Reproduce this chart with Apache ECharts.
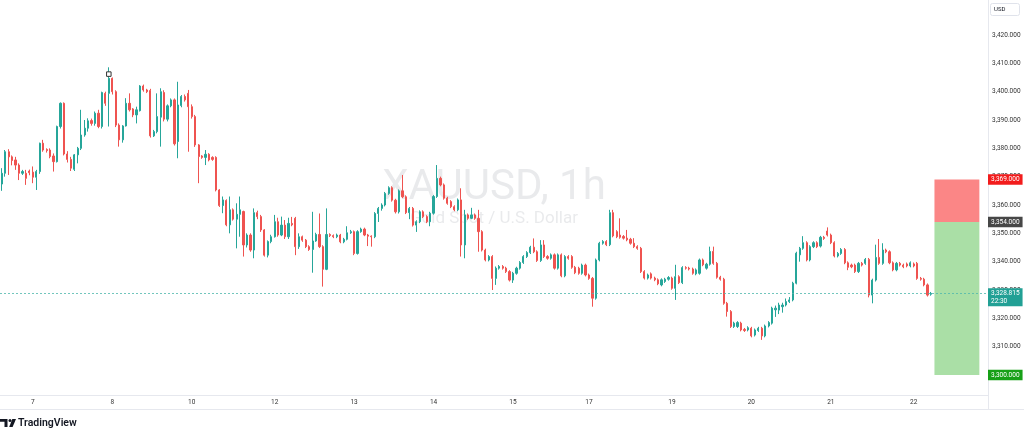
<!DOCTYPE html>
<html><head><meta charset="utf-8">
<script src="https://cdn.jsdelivr.net/npm/echarts@6/dist/echarts.min.js"></script>
<style>html,body{margin:0;padding:0;background:#fff}#c{width:1024px;height:437px}</style>
</head><body><div id="c"></div>
<script>
const opens = [
3367.4,3371.2,3378.8,3377.0,3375.9,3374.1,3371.2,3371.2,3372.0,3371.6,
3369.8,3371.8,3381.8,3379.6,3379.4,3377.3,3375.3,3387.7,3395.9,3378.0,
3376.1,3372.6,3377.7,3380.0,3384.7,3387.1,3389.8,3388.8,3392.4,3387.7,
3399.4,3399.4,3404.7,3400.0,3388.2,3383.0,3387.9,3395.9,3393.9,3391.8,
3393.3,3402.0,3400.6,3400.4,3384.4,3385.9,3391.0,3399.7,3390.3,3395.0,
3397.1,3382.4,3395.1,3398.3,3399.4,3394.7,3391.2,3381.2,3377.3,3376.8,
3377.9,3376.8,3376.8,3365.3,3359.8,3361.6,3353.0,3358.3,3355.0,3356.7,
3357.7,3345.9,3349.4,3344.1,3357.3,3355.9,3351.2,3342.3,3347.1,3348.8,
3354.1,3349.4,3352.9,3348.8,3353.5,3355.3,3345.3,3348.8,3347.6,3345.3,
3344.3,3347.3,3349.6,3345.3,3337.3,3349.6,3349.2,3348.8,3349.4,3347.0,
3347.9,3350.2,3350.6,3342.9,3350.6,3351.5,3349.4,3349.0,3348.8,3357.0,
3358.8,3360.0,3364.1,3366.1,3361.7,3357.6,3365.0,3362.9,3357.3,3358.8,
3352.9,3354.1,3357.6,3355.9,3354.1,3357.1,3363.0,3369.4,3367.1,3362.4,
3361.2,3359.4,3358.3,3361.8,3345.9,3356.5,3355.3,3356.5,3355.3,3350.6,
3344.1,3340.6,3341.8,3334.1,3337.7,3338.3,3337.7,3336.5,3333.5,3335.9,
3337.7,3339.7,3341.8,3343.2,3345.1,3343.5,3340.4,3345.9,3341.8,3341.2,
3342.4,3337.7,3342.4,3335.0,3341.8,3341.8,3338.0,3337.7,3335.9,3338.8,
3335.3,3334.1,3327.1,3340.6,3346.5,3347.1,3346.0,3357.3,3350.6,3349.4,
3348.9,3348.3,3347.9,3346.5,3345.3,3344.7,3336.5,3334.2,3335.7,3334.2,
3333.6,3331.8,3333.0,3333.8,3334.2,3330.6,3334.7,3332.6,3337.9,3337.7,
3337.4,3335.7,3335.9,3340.6,3337.7,3339.1,3343.6,3339.4,3334.5,3333.8,
3325.3,3322.4,3317.1,3317.1,3318.3,3316.1,3315.9,3316.5,3314.1,3315.7,
3316.5,3313.8,3317.3,3318.3,3323.0,3322.9,3324.1,3324.7,3325.9,3326.5,
3332.4,3342.4,3344.7,3346.7,3340.6,3345.3,3346.7,3345.5,3348.6,3350.8,
3349.4,3346.7,3342.0,3342.9,3344.3,3339.6,3338.8,3338.8,3336.5,3339.4,
3339.4,3340.8,3328.2,3333.5,3341.5,3339.4,3344.1,3343.5,3339.6,3337.1,
3339.4,3338.8,3339.2,3338.5,3339.2,3339.4,3334.1,3333.8,3331.8,3328.5
];
const closes = [
3371.2,3378.8,3377.0,3375.7,3374.1,3371.2,3371.8,3369.4,3371.4,3369.8,
3371.8,3381.8,3379.4,3379.2,3377.1,3375.3,3387.7,3395.9,3378.0,3376.1,
3373.0,3377.7,3380.0,3384.7,3387.1,3389.7,3388.8,3392.4,3387.7,3399.7,
3395.9,3404.7,3400.0,3388.2,3383.0,3387.9,3395.9,3393.6,3391.8,3393.6,
3402.0,3400.6,3400.0,3384.4,3385.9,3391.2,3400.0,3390.3,3395.0,3397.1,
3381.6,3395.3,3398.3,3397.1,3394.7,3391.2,3381.2,3377.1,3376.8,3377.9,
3375.9,3376.1,3365.3,3359.8,3361.8,3353.0,3358.3,3355.0,3356.7,3358.3,
3345.9,3349.4,3344.1,3357.3,3355.9,3351.2,3342.3,3347.1,3348.8,3354.1,
3349.4,3352.9,3348.8,3353.5,3353.0,3345.3,3348.8,3347.6,3345.3,3344.3,
3347.3,3349.6,3345.3,3337.3,3349.6,3349.2,3348.8,3349.4,3347.0,3347.9,
3350.2,3350.6,3342.9,3350.6,3351.5,3349.4,3349.0,3348.8,3357.0,3358.8,
3360.0,3364.1,3366.1,3361.7,3357.6,3365.0,3362.9,3357.3,3358.8,3352.9,
3354.1,3357.6,3355.9,3354.1,3357.1,3363.0,3369.4,3367.1,3362.4,3360.6,
3359.4,3358.3,3361.8,3345.9,3356.5,3355.3,3356.5,3355.3,3350.6,3344.1,
3340.6,3341.8,3334.1,3337.7,3338.3,3337.7,3336.5,3333.5,3335.9,3337.7,
3339.7,3341.8,3343.2,3345.1,3343.5,3340.4,3345.9,3341.8,3341.2,3342.4,
3337.7,3342.4,3335.0,3341.8,3341.2,3338.0,3336.1,3335.9,3338.8,3335.3,
3334.1,3327.1,3340.6,3346.5,3347.1,3346.0,3357.3,3349.1,3348.8,3348.6,
3348.3,3347.7,3346.5,3345.3,3344.7,3336.5,3334.2,3335.3,3334.2,3333.6,
3332.2,3333.6,3333.8,3334.4,3330.6,3334.7,3332.6,3337.9,3337.7,3337.4,
3335.9,3337.1,3340.6,3338.9,3339.1,3343.6,3339.4,3334.5,3333.8,3325.3,
3322.4,3317.1,3318.3,3318.5,3315.9,3315.7,3316.7,3313.8,3315.9,3316.5,
3313.8,3317.3,3318.5,3323.6,3323.6,3324.7,3324.7,3325.9,3326.5,3332.4,
3343.0,3344.7,3346.7,3340.6,3345.3,3346.7,3345.3,3348.6,3348.2,3349.4,
3346.7,3342.0,3342.9,3344.3,3339.6,3338.0,3338.2,3336.5,3339.4,3338.8,
3340.8,3328.2,3333.5,3341.5,3339.4,3344.1,3343.5,3339.6,3337.1,3339.4,
3338.8,3338.2,3338.5,3339.6,3338.5,3334.1,3333.8,3331.8,3328.2,3328.8
];
const highs = [
3373.0,3379.4,3379.7,3377.5,3377.0,3374.7,3372.4,3372.4,3372.5,3373.6,
3372.4,3382.0,3383.0,3380.0,3380.0,3378.2,3388.0,3396.2,3396.2,3379.0,
3377.0,3378.0,3380.5,3393.6,3390.0,3390.6,3390.5,3393.0,3393.6,3400.0,
3400.0,3408.6,3405.0,3400.5,3388.8,3388.2,3397.7,3399.4,3394.2,3394.7,
3402.3,3402.5,3401.0,3401.0,3386.5,3399.4,3401.2,3400.5,3395.5,3397.6,
3397.6,3403.5,3398.8,3399.0,3400.6,3395.5,3391.8,3381.5,3377.6,3379.4,
3378.3,3377.2,3377.2,3365.6,3363.0,3362.0,3363.0,3358.8,3360.6,3363.0,
3358.0,3350.0,3350.0,3358.8,3358.0,3356.5,3351.5,3347.5,3349.5,3356.5,
3355.5,3355.9,3354.7,3355.5,3355.8,3355.8,3350.0,3349.2,3348.0,3345.8,
3357.6,3350.2,3357.0,3345.8,3358.8,3350.0,3349.6,3349.9,3349.8,3348.4,
3352.5,3351.2,3351.0,3351.1,3352.0,3352.0,3349.8,3349.3,3357.5,3359.3,
3360.6,3364.6,3366.6,3366.6,3362.2,3365.5,3370.6,3363.4,3359.3,3359.3,
3354.6,3358.1,3358.1,3356.4,3357.6,3363.5,3374.1,3370.0,3367.6,3362.9,
3361.7,3359.9,3362.3,3365.9,3358.3,3357.0,3359.0,3357.0,3358.3,3351.1,
3344.6,3342.3,3342.3,3338.3,3338.8,3338.8,3338.2,3337.0,3336.4,3338.2,
3340.2,3342.3,3343.7,3345.6,3348.2,3344.0,3347.6,3347.6,3342.3,3342.9,
3342.9,3342.9,3342.9,3342.3,3342.3,3342.3,3338.5,3338.2,3339.3,3339.3,
3335.8,3334.6,3341.1,3347.0,3347.6,3347.6,3358.3,3358.3,3351.1,3355.3,
3349.4,3351.2,3348.4,3348.3,3345.8,3345.2,3337.0,3335.8,3336.2,3334.7,
3334.1,3334.1,3334.3,3334.9,3334.7,3338.9,3335.2,3338.4,3338.4,3338.2,
3337.9,3337.6,3341.1,3341.1,3339.6,3345.3,3345.3,3339.9,3335.0,3334.3,
3325.8,3322.9,3318.8,3319.0,3318.8,3316.6,3317.2,3317.0,3316.4,3317.0,
3317.0,3317.8,3319.0,3324.1,3324.5,3325.5,3325.5,3327.0,3327.5,3332.9,
3343.5,3345.2,3349.0,3347.2,3345.8,3347.2,3347.2,3349.1,3349.1,3352.1,
3349.9,3347.2,3343.4,3344.8,3344.8,3340.1,3339.3,3339.3,3339.9,3339.9,
3341.3,3341.3,3334.0,3346.0,3348.0,3346.5,3344.6,3344.0,3340.1,3339.9,
3339.9,3339.3,3339.7,3340.1,3339.7,3339.9,3334.6,3334.3,3332.3,3329.3
];
const lows = [
3365.0,3370.0,3370.6,3374.0,3372.4,3368.8,3370.6,3367.1,3370.5,3367.7,
3365.3,3371.0,3378.8,3378.5,3376.5,3371.8,3375.0,3387.0,3377.5,3375.0,
3372.0,3372.0,3374.7,3379.4,3384.1,3385.9,3388.0,3388.0,3387.1,3387.0,
3395.0,3387.7,3399.0,3387.5,3380.6,3382.0,3387.7,3393.0,3391.0,3388.8,
3393.0,3400.0,3399.5,3383.8,3384.0,3385.3,3380.6,3389.5,3389.5,3394.5,
3381.0,3376.5,3394.5,3396.5,3378.8,3390.5,3380.5,3367.7,3376.3,3374.1,
3375.4,3375.6,3364.8,3359.3,3357.1,3352.5,3350.0,3354.5,3344.7,3348.8,
3341.8,3345.0,3343.5,3341.2,3355.0,3350.5,3341.8,3341.5,3346.5,3348.5,
3348.8,3349.0,3348.0,3348.0,3352.5,3342.3,3344.5,3347.0,3344.8,3343.8,
3336.1,3347.0,3344.8,3331.2,3337.0,3348.7,3348.3,3348.3,3346.5,3346.5,
3347.5,3349.8,3342.3,3342.5,3350.2,3349.0,3345.5,3345.3,3348.3,3354.0,
3358.0,3359.5,3363.6,3361.2,3357.0,3357.0,3362.4,3356.8,3355.0,3352.4,
3350.5,3353.6,3355.4,3353.6,3352.5,3356.6,3362.5,3366.6,3361.9,3360.1,
3358.9,3357.8,3357.8,3341.8,3341.2,3354.8,3355.0,3354.8,3343.5,3343.6,
3340.1,3340.1,3330.0,3331.8,3337.2,3337.2,3336.0,3333.0,3332.5,3335.4,
3337.2,3339.2,3341.3,3342.7,3343.0,3339.9,3339.9,3341.3,3340.7,3340.7,
3337.2,3337.2,3334.5,3334.5,3340.7,3337.5,3335.6,3335.4,3335.4,3334.8,
3333.6,3324.1,3326.6,3340.1,3346.0,3345.5,3345.5,3348.6,3348.3,3348.1,
3347.8,3347.2,3346.0,3344.8,3344.2,3336.0,3333.7,3333.7,3333.7,3333.1,
3331.7,3331.3,3332.5,3333.3,3330.1,3326.5,3332.1,3332.1,3337.2,3336.9,
3335.4,3335.2,3335.4,3338.4,3337.2,3338.6,3338.9,3334.0,3333.3,3324.8,
3320.6,3316.6,3316.6,3316.6,3315.4,3315.2,3315.4,3313.3,3313.6,3315.2,
3312.4,3313.3,3316.8,3317.8,3320.5,3321.5,3322.0,3324.2,3325.4,3326.0,
3332.0,3340.0,3344.2,3340.1,3340.1,3344.8,3344.8,3345.0,3347.7,3348.9,
3346.2,3341.5,3341.5,3342.4,3339.1,3337.0,3337.7,3336.0,3336.0,3338.3,
3338.9,3327.4,3325.3,3333.0,3338.9,3338.9,3343.0,3339.1,3336.6,3336.6,
3338.3,3337.7,3338.0,3338.0,3338.0,3333.6,3333.3,3331.3,3327.7,3328.0
];
const dayLabels = ['7','8','10','12','13','14','15','17','19','20','21','22'];
const dayStart = [9,32,55,79,102,125,148,170,194,217,240,264];
const slotCount = 286;
const lastPrice = 3328.815;
const lastTime = '22:30';
const stopPrice = 3369;
const entryPrice = 3354;
const targetPrice = 3300;
const highMark = {idx:31, price:3406.2};

const fmt = v => v.toLocaleString('en-US',{minimumFractionDigits:3,maximumFractionDigits:3});
const cats = [];
for (let i=0;i<slotCount;i++){ const j=dayStart.indexOf(i); cats.push(j>=0?dayLabels[j]:('s'+i)); }
const candles = opens.map((o,i)=>[o, closes[i], lows[i], highs[i]]);
const UP='#26a69a', DN='#ef5350';
const lbl = (txt,bg,extra)=>Object.assign({show:true,position:'end',distance:0,formatter:txt,backgroundColor:bg,color:'#fff',
  fontSize:6.5,fontFamily:'Roboto',padding:[1.5,3,1.5,3],lineHeight:7.5},extra||{});
const chart = echarts.init(document.getElementById('c'),null,{renderer:'canvas'});
const staticGraphics = [
    {id:'wm1',type:'text',z:-10,x:494,y:188,style:{text:'XAUUSD, 1h',font:'normal 42px Roboto',fill:'rgba(120,123,134,0.16)',textAlign:'center',textVerticalAlign:'middle'}},
    {id:'wm2',type:'text',z:-10,x:494,y:219,style:{text:'Gold Spot / U.S. Dollar',font:'normal 17px Roboto',fill:'rgba(120,123,134,0.16)',textAlign:'center',textVerticalAlign:'middle'}},
    {id:'l1',type:'line',z:5,shape:{x1:0,y1:395.5,x2:988,y2:395.5},style:{stroke:'#e6e8ee',lineWidth:1}},
    {id:'l2',type:'line',z:5,shape:{x1:0,y1:409.5,x2:1024,y2:409.5},style:{stroke:'#e6e8ee',lineWidth:1}},
    {id:'l3',type:'line',z:5,shape:{x1:988.5,y1:0,x2:988.5,y2:409.5},style:{stroke:'#e6e8ee',lineWidth:1}},
    {id:'ub',type:'rect',z:5,shape:{x:990.5,y:3.5,width:29,height:12,r:2},style:{fill:'#fff',stroke:'#e0e3eb',lineWidth:1}},
    {id:'ut',type:'text',z:6,x:994,y:9.5,style:{text:'USD',font:'normal 6px Roboto',fill:'#131722',textVerticalAlign:'middle'}},
    {id:'g1',type:'polygon',z:5,shape:{points:[[0,419],[7.5,419],[7.5,427],[4.5,427],[4.5,421.8],[0,421.8]]},style:{fill:'#131722'}},
    {id:'g2',type:'circle',z:5,shape:{cx:10,cy:420.6,r:1.5},style:{fill:'#131722'}},
    {id:'g3',type:'polygon',z:5,shape:{points:[[12.3,419],[16,419],[12.6,427],[9.2,427]]},style:{fill:'#131722'}},
    {id:'tv',type:'text',z:5,x:18,y:423,style:{text:'TradingView',font:'600 10.5px Roboto',fill:'#131722',textVerticalAlign:'middle'}}
];
chart.setOption({
  animation:false,
  backgroundColor:'#ffffff',
  grid:{left:0,right:36,top:6.667,bottom:33.667},
  xAxis:{type:'category',data:cats,boundaryGap:true,
    axisLine:{show:false},axisTick:{show:false},splitLine:{show:false},
    axisLabel:{interval:(i)=>dayStart.includes(i),formatter:(v,i)=>{const j=dayStart.indexOf(i);return j>=0?dayLabels[j]:'';},
      fontSize:6.5,color:'#333',margin:-4.5,fontFamily:'Roboto'}},
  yAxis:{type:'value',position:'right',min:3290,max:3430,interval:10,
    axisLine:{show:false},axisTick:{show:false},splitLine:{show:false},
    axisLabel:{fontSize:6.5,margin:4,color:'#333',fontFamily:'Roboto',
      formatter:v=>(v<3300||v>3420)?'':fmt(v)}},
  graphic:{elements:staticGraphics},
  series:[{
    type:'candlestick',data:candles,barWidth:1.6,z:3,
    itemStyle:{color:UP,color0:DN,borderColor:UP,borderColor0:DN,borderWidth:1},
    markArea:{silent:true,label:{show:false},data:[
      [{xAxis:270,yAxis:stopPrice,itemStyle:{color:'#fb8686'}},{xAxis:283,yAxis:entryPrice}],
      [{xAxis:270,yAxis:entryPrice,itemStyle:{color:'#aadfa6'}},{xAxis:283,yAxis:targetPrice}]
    ]},
    markLine:{silent:true,symbol:['none','none'],animation:false,
      data:[
      {yAxis:stopPrice,lineStyle:{width:0,color:'rgba(0,0,0,0)'},label:lbl(fmt(stopPrice),'#f21c1c')},
      {yAxis:entryPrice,lineStyle:{width:0,color:'rgba(0,0,0,0)'},label:lbl(fmt(entryPrice),'#474747')},
      {yAxis:targetPrice,lineStyle:{width:0,color:'rgba(0,0,0,0)'},label:lbl(fmt(targetPrice),'#17a017')},
      {yAxis:lastPrice,lineStyle:{width:0,color:'rgba(0,0,0,0)'},label:lbl(fmt(lastPrice)+'\n'+lastTime,'#22a095',{offset:[0,4]})}
    ]},
    markPoint:{silent:true,data:[{coord:[highMark.idx,highMark.price],symbol:'rect',symbolSize:4.5,
      itemStyle:{color:'#fff',borderColor:'#333',borderWidth:1},label:{show:false}}]}
  }]
});
// current price dotted line, positioned through the library's y scale
const yLast = Math.round(chart.convertToPixel({yAxisIndex:0}, lastPrice)) + 0.5;
chart.setOption({graphic:{elements:[
  {id:'lastLine',type:'line',z:4,shape:{x1:0,y1:yLast,x2:988,y2:yLast},
   style:{stroke:'#4fb8ad',lineWidth:1,lineDash:[2,2],opacity:0.8}}
]}});
</script></body></html>
